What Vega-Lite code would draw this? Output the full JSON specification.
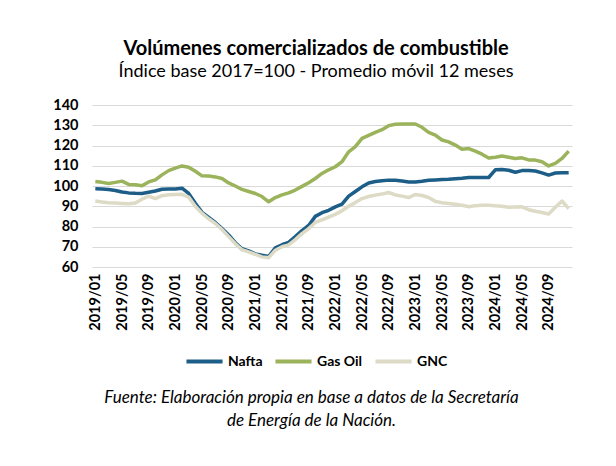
{
  "$schema": "https://vega.github.io/schema/vega-lite/v6.json",
  "width": 480,
  "height": 162,
  "autosize": "none",
  "padding": {"left": 92, "top": 105, "right": 44, "bottom": 199},
  "background": "white",
  "title": {
    "text": "Volúmenes comercializados de combustible",
    "subtitle": "Índice base 2017=100 - Promedio móvil 12 meses",
    "anchor": "middle",
    "dx": -16,
    "font": "Lato",
    "fontSize": 20,
    "fontWeight": "bold",
    "color": "#000000",
    "subtitleFont": "Lato",
    "subtitleFontSize": 18,
    "subtitleColor": "#000000",
    "subtitlePadding": 4,
    "offset": 16
  },
  "config": {
    "view": {"stroke": null},
    "font": "Lato"
  },
  "data": {
    "values": [
      {"mes": "2019/01", "Nafta": 98.6, "Gas Oil": 102.2, "GNC": 92.6},
      {"mes": "2019/02", "Nafta": 98.5, "Gas Oil": 101.8, "GNC": 92.1},
      {"mes": "2019/03", "Nafta": 98.3, "Gas Oil": 101.2, "GNC": 91.7},
      {"mes": "2019/04", "Nafta": 97.8, "Gas Oil": 101.8, "GNC": 91.6},
      {"mes": "2019/05", "Nafta": 97.0, "Gas Oil": 102.4, "GNC": 91.4},
      {"mes": "2019/06", "Nafta": 96.6, "Gas Oil": 100.8, "GNC": 91.2},
      {"mes": "2019/07", "Nafta": 96.4, "Gas Oil": 100.6, "GNC": 91.6},
      {"mes": "2019/08", "Nafta": 96.3, "Gas Oil": 100.1, "GNC": 93.5},
      {"mes": "2019/09", "Nafta": 96.9, "Gas Oil": 102.0, "GNC": 95.0},
      {"mes": "2019/10", "Nafta": 97.5, "Gas Oil": 103.0, "GNC": 93.8},
      {"mes": "2019/11", "Nafta": 98.4, "Gas Oil": 105.5, "GNC": 95.2},
      {"mes": "2019/12", "Nafta": 98.5, "Gas Oil": 107.6, "GNC": 95.7},
      {"mes": "2020/01", "Nafta": 98.5, "Gas Oil": 108.8, "GNC": 95.8},
      {"mes": "2020/02", "Nafta": 98.9, "Gas Oil": 109.9, "GNC": 95.9},
      {"mes": "2020/03", "Nafta": 96.3, "Gas Oil": 109.3, "GNC": 94.5},
      {"mes": "2020/04", "Nafta": 91.5, "Gas Oil": 107.3, "GNC": 90.0},
      {"mes": "2020/05", "Nafta": 87.0, "Gas Oil": 105.0, "GNC": 86.5},
      {"mes": "2020/06", "Nafta": 84.5, "Gas Oil": 104.9, "GNC": 83.8},
      {"mes": "2020/07", "Nafta": 82.0, "Gas Oil": 104.5, "GNC": 81.5},
      {"mes": "2020/08", "Nafta": 79.0, "Gas Oil": 103.7, "GNC": 78.5},
      {"mes": "2020/09", "Nafta": 75.8, "Gas Oil": 101.5, "GNC": 75.0},
      {"mes": "2020/10", "Nafta": 72.0, "Gas Oil": 100.0, "GNC": 71.5},
      {"mes": "2020/11", "Nafta": 69.0, "Gas Oil": 98.3, "GNC": 68.5},
      {"mes": "2020/12", "Nafta": 68.0, "Gas Oil": 97.3, "GNC": 67.5},
      {"mes": "2021/01", "Nafta": 66.5, "Gas Oil": 96.3, "GNC": 66.2},
      {"mes": "2021/02", "Nafta": 65.8, "Gas Oil": 94.8, "GNC": 65.0},
      {"mes": "2021/03", "Nafta": 65.2, "Gas Oil": 92.2, "GNC": 64.6},
      {"mes": "2021/04", "Nafta": 69.5, "Gas Oil": 94.3, "GNC": 68.3},
      {"mes": "2021/05", "Nafta": 71.0, "Gas Oil": 95.6, "GNC": 70.0},
      {"mes": "2021/06", "Nafta": 72.2, "Gas Oil": 96.6, "GNC": 70.9},
      {"mes": "2021/07", "Nafta": 75.0, "Gas Oil": 98.0, "GNC": 73.5},
      {"mes": "2021/08", "Nafta": 78.0, "Gas Oil": 99.8, "GNC": 76.5},
      {"mes": "2021/09", "Nafta": 80.5, "Gas Oil": 101.6, "GNC": 79.0},
      {"mes": "2021/10", "Nafta": 85.0, "Gas Oil": 103.7, "GNC": 82.0},
      {"mes": "2021/11", "Nafta": 86.8, "Gas Oil": 106.2, "GNC": 83.3},
      {"mes": "2021/12", "Nafta": 88.0, "Gas Oil": 108.0, "GNC": 84.6},
      {"mes": "2022/01", "Nafta": 89.7, "Gas Oil": 109.5, "GNC": 86.0},
      {"mes": "2022/02", "Nafta": 91.0, "Gas Oil": 112.0, "GNC": 87.8},
      {"mes": "2022/03", "Nafta": 95.0, "Gas Oil": 116.9, "GNC": 90.0},
      {"mes": "2022/04", "Nafta": 97.3, "Gas Oil": 119.4, "GNC": 91.8},
      {"mes": "2022/05", "Nafta": 99.6, "Gas Oil": 123.5, "GNC": 93.8},
      {"mes": "2022/06", "Nafta": 101.5, "Gas Oil": 125.0, "GNC": 94.8},
      {"mes": "2022/07", "Nafta": 102.2, "Gas Oil": 126.5, "GNC": 95.5},
      {"mes": "2022/08", "Nafta": 102.6, "Gas Oil": 127.8, "GNC": 96.0},
      {"mes": "2022/09", "Nafta": 102.9, "Gas Oil": 129.8, "GNC": 96.8},
      {"mes": "2022/10", "Nafta": 102.8, "Gas Oil": 130.5, "GNC": 95.6},
      {"mes": "2022/11", "Nafta": 102.5, "Gas Oil": 130.6, "GNC": 95.0},
      {"mes": "2022/12", "Nafta": 102.0, "Gas Oil": 130.6, "GNC": 94.3},
      {"mes": "2023/01", "Nafta": 102.0, "Gas Oil": 130.6, "GNC": 95.8},
      {"mes": "2023/02", "Nafta": 102.3, "Gas Oil": 129.0, "GNC": 95.3},
      {"mes": "2023/03", "Nafta": 102.8, "Gas Oil": 126.5, "GNC": 94.3},
      {"mes": "2023/04", "Nafta": 103.0, "Gas Oil": 125.1, "GNC": 92.4},
      {"mes": "2023/05", "Nafta": 103.2, "Gas Oil": 122.7, "GNC": 91.7},
      {"mes": "2023/06", "Nafta": 103.3, "Gas Oil": 121.8, "GNC": 91.4},
      {"mes": "2023/07", "Nafta": 103.6, "Gas Oil": 120.2, "GNC": 91.0},
      {"mes": "2023/08", "Nafta": 103.8, "Gas Oil": 118.2, "GNC": 90.5},
      {"mes": "2023/09", "Nafta": 104.2, "Gas Oil": 118.5, "GNC": 89.8},
      {"mes": "2023/10", "Nafta": 104.2, "Gas Oil": 117.2, "GNC": 90.3},
      {"mes": "2023/11", "Nafta": 104.2, "Gas Oil": 115.7, "GNC": 90.5},
      {"mes": "2023/12", "Nafta": 104.2, "Gas Oil": 113.8, "GNC": 90.5},
      {"mes": "2024/01", "Nafta": 108.0, "Gas Oil": 114.2, "GNC": 90.2},
      {"mes": "2024/02", "Nafta": 108.1, "Gas Oil": 114.8, "GNC": 90.0},
      {"mes": "2024/03", "Nafta": 107.8, "Gas Oil": 114.2, "GNC": 89.5},
      {"mes": "2024/04", "Nafta": 106.8, "Gas Oil": 113.6, "GNC": 89.6},
      {"mes": "2024/05", "Nafta": 107.6, "Gas Oil": 113.9, "GNC": 89.7},
      {"mes": "2024/06", "Nafta": 107.7, "Gas Oil": 112.9, "GNC": 88.3},
      {"mes": "2024/07", "Nafta": 107.4, "Gas Oil": 112.8, "GNC": 87.5},
      {"mes": "2024/08", "Nafta": 106.5, "Gas Oil": 112.0, "GNC": 86.9},
      {"mes": "2024/09", "Nafta": 105.4, "Gas Oil": 109.9, "GNC": 86.2},
      {"mes": "2024/10", "Nafta": 106.4, "Gas Oil": 111.2, "GNC": 89.5},
      {"mes": "2024/11", "Nafta": 106.5, "Gas Oil": 113.6, "GNC": 92.6},
      {"mes": "2024/12", "Nafta": 106.5, "Gas Oil": 117.2, "GNC": 88.8}
    ]
  },
  "transform": [
    {"fold": ["Nafta", "Gas Oil", "GNC"], "as": ["serie", "valor"]}
  ],
  "mark": {"type": "line", "strokeWidth": 3.5, "strokeJoin": "round", "strokeCap": "butt"},
  "encoding": {
    "x": {
      "field": "mes",
      "type": "ordinal",
      "sort": null,
      "scale": {"type": "point", "padding": 0.5},
      "axis": {
        "values": ["2019/01","2019/05","2019/09","2020/01","2020/05","2020/09","2021/01","2021/05","2021/09","2022/01","2022/05","2022/09","2023/01","2023/05","2023/09","2024/01","2024/05","2024/09"],
        "labelAngle": -90,
        "labelFont": "Lato",
        "labelFontSize": 14.5,
        "labelFontWeight": "bold",
        "labelColor": "#000000",
        "labelPadding": 6,
        "labelOverlap": false,
        "ticks": false,
        "domain": false,
        "grid": false,
        "title": ["Fuente: Elaboración propia en base a datos de la Secretaría", "de Energía de la Nación."],
        "titleFont": "Lato",
        "titleFontSize": 17,
        "titleFontWeight": "normal",
        "titleFontStyle": "italic",
        "titleColor": "#000000",
        "titleLineHeight": 23,
        "titlePadding": 59,
        "titleX": 219
      }
    },
    "y": {
      "field": "valor",
      "type": "quantitative",
      "scale": {"domain": [60, 140], "nice": false, "zero": false},
      "axis": {
        "values": [60, 70, 80, 90, 100, 110, 120, 130, 140],
        "labelFont": "Lato",
        "labelFontSize": 14.5,
        "labelFontWeight": "bold",
        "labelColor": "#000000",
        "labelPadding": 14,
        "ticks": false,
        "domain": false,
        "gridColor": "#d9d9d9",
        "gridWidth": 1,
        "title": null
      }
    },
    "color": {
      "field": "serie",
      "type": "nominal",
      "sort": ["Nafta", "Gas Oil", "GNC"],
      "scale": {"domain": ["Nafta", "Gas Oil", "GNC"], "range": ["#1C5E88", "#9BB35A", "#DDDAC5"]},
      "legend": {
        "title": null,
        "orient": "none",
        "direction": "horizontal",
        "gridAlign": "none",
        "legendX": 92,
        "legendY": 236,
        "symbolType": "stroke",
        "symbolSize": 1300,
        "symbolStrokeWidth": 4,
        "labelFont": "Lato",
        "labelFontSize": 14,
        "labelFontWeight": "bold",
        "labelColor": "#000000",
        "labelOffset": 3,
        "columnPadding": 4
      }
    }
  }
}
